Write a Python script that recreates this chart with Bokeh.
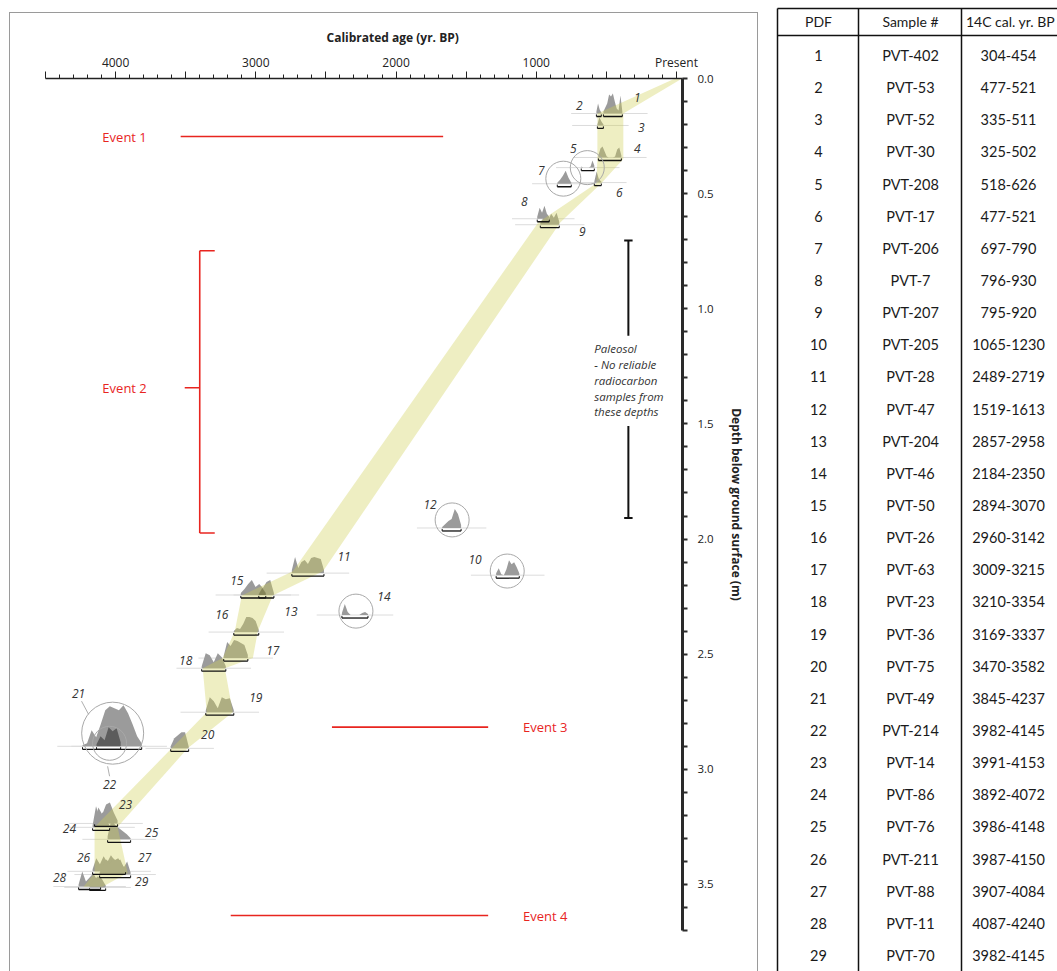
import numpy as np
from bokeh.plotting import figure
from bokeh.models import (Range1d, FixedTicker, LinearAxis, PrintfTickFormatter)
from bokeh.layouts import row
from bokeh.embed import file_html
from bokeh.resources import INLINE
from bokeh.core.properties import value

# ---------------- table data ----------------
pdf_ids = [str(i) for i in range(1, 30)]
sample_ids = ["PVT-402", "PVT-53", "PVT-52", "PVT-30", "PVT-208", "PVT-17", "PVT-206", "PVT-7",
              "PVT-207", "PVT-205", "PVT-28", "PVT-47", "PVT-204", "PVT-46", "PVT-50", "PVT-26",
              "PVT-63", "PVT-23", "PVT-36", "PVT-75", "PVT-49", "PVT-214", "PVT-14", "PVT-86",
              "PVT-76", "PVT-211", "PVT-88", "PVT-11", "PVT-70"]
cal_ranges = ["304-454", "477-521", "335-511", "325-502", "518-626", "477-521", "697-790",
              "796-930", "795-920", "1065-1230", "2489-2719", "1519-1613", "2857-2958",
              "2184-2350", "2894-3070", "2960-3142", "3009-3215", "3210-3354", "3169-3337",
              "3470-3582", "3845-4237", "3982-4145", "3991-4153", "3892-4072", "3986-4148",
              "3987-4150", "3907-4084", "4087-4240", "3982-4145"]
table_header = ["PDF", "Sample #", "14C cal. yr. BP"]

# ---------------- age-depth model band ----------------
band_depth = [0.0, 0.152, 0.35, 0.455, 0.625, 2.14, 2.245, 2.40, 2.517, 2.561, 2.752, 2.909, 3.25, 3.45, 3.51]
band_old = [10, 564, 564, 571, 986, 2736, 3100, 3150, 3236, 3379, 3350, 3600, 4150, 4150, 4229]
band_young = [-40, 379, 379, 536, 829, 2521, 2879, 2986, 3021, 3221, 3164, 3486, 3986, 3914, 4093]

# ---------------- probability distributions ----------------
pdf_depth = [0.152, 0.152, 0.204, 0.343, 0.387, 0.452, 0.457, 0.609, 0.635, 2.157,
             2.148, 1.952, 2.243, 2.330, 2.243, 2.404, 2.517, 2.561, 2.752, 2.909,
             2.900, 2.900, 3.235, 3.252, 3.304, 3.443, 3.457, 3.509, 3.513]
pdf_old = [521, 571, 564, 557, 679, 586, 850, 993, 971, 1286,
           2743, 1671, 2979, 2386, 3107, 3157, 3229, 3386, 3357, 3607,
           4236, 4136, 4150, 4164, 4057, 4164, 4114, 4264, 4186]
pdf_young = [386, 536, 521, 393, 586, 536, 750, 907, 836, 1121,
             2514, 1536, 2929, 2200, 2871, 2979, 3057, 3214, 3157, 3479,
             3814, 3964, 3986, 4043, 3893, 3929, 3893, 4107, 4071]
pdf_heights = [
    [2, 6, 10, 19, 17, 20, 12, 5, 3, 18, 2],
    [2, 10, 4, 1],
    [1, 8, 4, 1],
    [2, 9, 11, 6, 1, 0, 0, 0, 1, 8, 10, 2],
    [1, 0, 0, 0, 0, 1, 7, 2],
    [1, 11, 3, 1],
    [1, 4, 8, 13, 6, 1],
    [2, 11, 6, 13, 5, 2],
    [2, 6, 10, 5, 11, 7, 12, 3],
    [2, 7, 1, 0, 6, 15, 11, 13, 8, 2],
    [3, 16, 5, 11, 13, 9, 15, 16, 15, 14, 3],
    [1, 4, 7, 9, 19, 14, 3],
    [1, 7, 2],
    [2, 11, 3, 0, 0, 0, 0, 2, 3, 1],
    [2, 6, 11, 15, 8, 11, 7, 13, 15, 2],
    [1, 4, 3, 8, 15, 15, 14, 11, 2],
    [2, 16, 12, 18, 17, 15, 13, 3],
    [2, 15, 13, 6, 15, 11, 2],
    [2, 15, 11, 4, 15, 13, 14, 2],
    [2, 10, 13, 16, 16, 2],
    [1, 3, 16, 9, 22, 36, 40, 38, 36, 41, 33, 22, 10, 3],
    [2, 10, 6, 19, 15, 18, 4],
    [2, 16, 9, 19, 21, 11, 3],
    [2, 21, 11, 15, 7, 2],
    [3, 20, 14, 11, 8, 5, 1],
    [2, 13, 7, 15, 9, 16, 11, 13, 7, 2],
    [2, 9, 15, 11, 16, 13, 15, 7, 13, 2],
    [2, 15, 5, 9, 13, 7, 2],
    [1, 7, 11, 9, 2],
]
dark_pdfs = [13, 22]

# number labels
lab_age = [279, 693, 250, 279, 736, 407, 964, 1086, 671, 1436, 2371, 1757, 2750, 2086, 3136,
           3243, 2879, 3500, 3000, 3343, 4264, 4043, 3929, 4329, 3743, 4229, 3793, 4400, 3814]
lab_depth = [0.083, 0.117, 0.213, 0.304, 0.304, 0.496, 0.400, 0.535, 0.665, 2.087, 2.074,
             1.848, 2.313, 2.248, 2.178, 2.326, 2.483, 2.526, 2.687, 2.848, 2.670, 3.065,
             3.152, 3.257, 3.274, 3.383, 3.383, 3.470, 3.487]

# rejected samples (circled)
circ_age = [636, 807, 1600, 1207, 2286, 4021, 4043]
circ_depth = [0.387, 0.435, 1.917, 2.139, 2.313, 2.843, 2.887]
circ_diam = [34, 35, 34, 34, 34, 62, 34]

# events
event_names = ["Event 1", "Event 2", "Event 3", "Event 4"]
event_label_age = [3936, 3936, 936, 936]
event_label_depth = [0.252, 1.343, 2.817, 3.635]
event_line_old = [3536, None, 2457, 3179]
event_line_young = [1664, None, 1343, 1343]
event2_age = 3400
event2_top, event2_bottom = 0.748, 1.974

# paleosol
paleo_age = 343
paleo_segments = [(0.704, 1.117), (1.509, 1.909)]
paleo_text = ["Paleosol", "- No reliable", "radiocarbon", "samples from", "these depths"]
paleo_text_age = 586
paleo_text_depth = [1.174, 1.243, 1.313, 1.383, 1.448]

FONT = "Open Sans"
RED = "#e8251f"

# ---------------- main chart ----------------
p = figure(width=749, height=959, x_range=Range1d(4500, -43), y_range=Range1d(3.7, 0),
           output_backend="svg", toolbar_location=None,
           x_axis_location=None, y_axis_location=None,
           min_border_left=36, min_border_right=76, min_border_top=66, min_border_bottom=41)
p.frame_align = False
p.grid.visible = False
p.outline_line_color = None
p.background_fill_color = None
p.border_fill_color = None
p.styles = {"margin-left": "9px", "margin-top": "12px",
            "box-shadow": "inset 1px 1px 0 0 #9a9a9a, inset -1px 0 0 0 #9a9a9a"}

p.title.text = "Calibrated age (yr. BP)"
p.title.align = "left"
p.title.offset = 281
p.title.text_font = FONT
p.title.text_font_style = "bold"
p.title.text_font_size = "12px"
p.title.text_color = "#222"

xmaj = list(range(0, 4501, 500))
xmin = [v for v in range(100, 4500, 100) if v % 500 != 0]
xax = LinearAxis(ticker=FixedTicker(ticks=xmaj, minor_ticks=xmin))
xax.major_label_overrides = {v: ("Present" if v == 0 else ("" if v % 1000 else str(v))) for v in xmaj}
xax.axis_line_width = 1.5
xax.axis_line_color = "#222"
xax.major_tick_out = 7
xax.major_tick_in = 0
xax.minor_tick_out = 4
xax.minor_tick_in = 0
xax.major_tick_line_color = "#222"
xax.minor_tick_line_color = "#222"
xax.major_label_text_font = FONT
xax.major_label_text_font_size = "12px"
xax.major_label_text_color = "#222"
xax.major_label_standoff = 1
p.add_layout(xax, "above")

ymaj = [i * 0.5 for i in range(8)]
ymin = [round(i * 0.1, 1) for i in range(1, 38) if i % 5 != 0]
yax = LinearAxis(ticker=FixedTicker(ticks=ymaj, minor_ticks=ymin),
                 formatter=PrintfTickFormatter(format="%.1f"))
yax.axis_line_width = 3
yax.axis_line_color = "#2a2a2a"
yax.major_tick_out = 5
yax.major_tick_in = 0
yax.minor_tick_out = 5
yax.minor_tick_in = 0
yax.major_tick_line_width = 2
yax.minor_tick_line_width = 2
yax.major_tick_line_color = "#2a2a2a"
yax.minor_tick_line_color = "#2a2a2a"
yax.major_label_text_font = FONT
yax.major_label_text_font_size = "11.5px"
yax.major_label_text_color = "#222"
yax.major_label_standoff = 10
yax.axis_label = "Depth below ground surface (m)"
yax.axis_label_text_font = FONT
yax.axis_label_text_font_style = "bold"
yax.axis_label_text_font_size = "12px"
yax.axis_label_text_color = "#222"
yax.axis_label_standoff = 11
p.add_layout(yax, "right")

k = 1.0 / 230.0  # depth per unit of drawn density height

# faint baselines
base_x0 = [o + 180 for o in pdf_old]
base_x1 = [y - 180 for y in pdf_young]
p.segment(base_x0, pdf_depth, base_x1, pdf_depth, line_color="#dcdcdc", line_width=1)

xs_l, ys_l, col_l = [], [], []
for i in range(29):
    h = pdf_heights[i]
    xx = np.linspace(pdf_old[i], pdf_young[i], len(h))
    d = pdf_depth[i]
    xs_l.append([pdf_old[i]] + list(xx) + [pdf_young[i]])
    ys_l.append([d] + [d - hh * k for hh in h] + [d])
    col_l.append("#5c5c5c" if (i + 1) in dark_pdfs else "#9b9b9b")
order = [i for i in range(29) if (i + 1) not in dark_pdfs] + [i - 1 for i in dark_pdfs]
p.patches([xs_l[i] for i in order], [ys_l[i] for i in order],
          fill_color=[col_l[i] for i in order], line_color=None)

# band
p.patch(band_old + band_young[::-1], band_depth + band_depth[::-1],
        fill_color="#cfcf55", fill_alpha=0.36, line_color=None)

# range bars
bar_d = [d + 0.013 for d in pdf_depth]
p.segment(pdf_old, bar_d, pdf_young, bar_d, line_color="#111", line_width=1.3)
p.segment(pdf_old, bar_d, pdf_old, [d - 0.009 for d in bar_d], line_color="#111", line_width=1)
p.segment(pdf_young, bar_d, pdf_young, [d - 0.009 for d in bar_d], line_color="#111", line_width=1)

# circles
p.scatter(circ_age, circ_depth, size=circ_diam, marker="circle", fill_color=None,
          line_color="#a8a8a8", line_width=1)
p.segment([4243, 4057], [2.704, 2.987], [4193, 4043], [2.761, 3.030], line_color="#999", line_width=0.8)

# number labels
p.text(lab_age, lab_depth, text=pdf_ids, text_font=value(FONT), text_font_style="italic",
       text_font_size="12px", text_align="center", text_baseline="middle", text_color="#333")

# events
ev_x0 = [o for o in event_line_old if o is not None]
ev_x1 = [o for o in event_line_young if o is not None]
ev_y = [event_label_depth[i] for i in range(4) if event_line_old[i] is not None]
p.segment(ev_x0, ev_y, ev_x1, ev_y, line_color=RED, line_width=1.6)
p.segment([event2_age, event2_age, event2_age, event2_age + 107],
          [event2_top, event2_top, event2_bottom, event_label_depth[1]],
          [event2_age, event2_age - 107, event2_age - 107, event2_age],
          [event2_bottom, event2_top, event2_bottom, event_label_depth[1]],
          line_color=RED, line_width=1.6)
p.text(event_label_age, event_label_depth, text=event_names, text_font=value(FONT),
       text_font_size="13px", text_align="center", text_baseline="middle", text_color=RED)

# paleosol bar
p.segment([paleo_age] * 2, [s[0] for s in paleo_segments], [paleo_age] * 2,
          [s[1] for s in paleo_segments], line_color="#111", line_width=2)
p.segment([paleo_age + 30, paleo_age + 30], [paleo_segments[0][0], paleo_segments[1][1]],
          [paleo_age - 30, paleo_age - 30], [paleo_segments[0][0], paleo_segments[1][1]],
          line_color="#111", line_width=2)
p.text([paleo_text_age] * 5, paleo_text_depth, text=paleo_text, text_font=value(FONT),
       text_font_style="italic", text_font_size="11.5px", text_align="left",
       text_baseline="middle", text_color="#333")

# ---------------- table ----------------
TH = 971
t = figure(width=299, height=TH, x_range=Range1d(0, 299), y_range=Range1d(TH, 0),
           output_backend="svg", toolbar_location=None, min_border=0,
           x_axis_location=None, y_axis_location=None)
t.frame_align = False
t.grid.visible = False
t.outline_line_color = None
col_x = [19, 100, 203]
col_c = [60, 152, 250]
head_c = [60, 152, 252]
t.segment(col_x, [8] * 3, col_x, [TH] * 3, line_color="#111", line_width=1.5)
t.segment([19, 19], [8, 35], [299, 299], [8, 35], line_color="#111", line_width=1.5)
t.text(head_c, [21] * 3, text=table_header, text_font=value("Lato"), text_font_size="14px",
       text_align="center", text_baseline="middle", text_color="#1a1a1a")
row_y = [55 + i * 32.14 for i in range(29)]
for c, vals in zip(col_c, [pdf_ids, sample_ids, cal_ranges]):
    t.text([c] * 29, row_y, text=vals, text_font=value("Lato"), text_font_size="14.5px",
           text_align="center", text_baseline="middle", text_color="#1a1a1a")

layout = row(p, t)
open("out.html", "w").write(file_html(layout, INLINE))
